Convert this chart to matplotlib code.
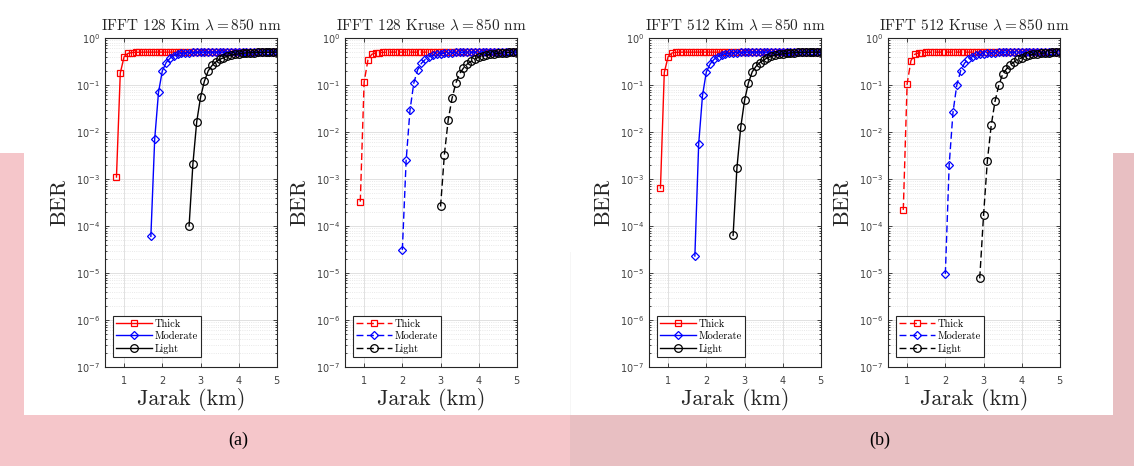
import numpy as np
import matplotlib
matplotlib.use("Agg")
import matplotlib.pyplot as plt
from matplotlib.patches import Rectangle
from matplotlib.ticker import LogLocator, NullFormatter, FixedLocator

plt.rcParams['mathtext.fontset'] = 'cm'
plt.rcParams['axes.formatter.use_mathtext'] = True

# jarak (km), grid sampel bersama
jarak = [0.5, 0.6, 0.7, 0.8, 0.9, 1.0, 1.1, 1.2, 1.3, 1.4,
         1.5, 1.6, 1.7, 1.8, 1.9, 2.0, 2.1, 2.2, 2.3, 2.4,
         2.5, 2.6, 2.7, 2.8, 2.9, 3.0, 3.1, 3.2, 3.3, 3.4,
         3.5, 3.6, 3.7, 3.8, 3.9, 4.0, 4.1, 4.2, 4.3, 4.4,
         4.5, 4.6, 4.7, 4.8, 4.9, 5.0]

# IFFT 128 Kim (mulai 0.8 / 1.7 / 2.7 km)
kim128_thick = [1.1e-3, 0.18, 0.40, 0.47, 0.49, 0.495, 0.498, 0.499, 0.5, 0.5,
                0.5, 0.5, 0.5, 0.5, 0.5, 0.5, 0.5, 0.5, 0.5, 0.5,
                0.5, 0.5, 0.5, 0.5, 0.5, 0.5, 0.5, 0.5, 0.5, 0.5,
                0.5, 0.5, 0.5, 0.5, 0.5, 0.5, 0.5, 0.5, 0.5, 0.5,
                0.5, 0.5, 0.5]
kim128_moderate = [6e-5, 7e-3, 0.07, 0.20, 0.30, 0.37, 0.42, 0.45, 0.47, 0.48,
                   0.488, 0.493, 0.496, 0.498, 0.499, 0.5, 0.5, 0.5, 0.5, 0.5,
                   0.5, 0.5, 0.5, 0.5, 0.5, 0.5, 0.5, 0.5, 0.5, 0.5,
                   0.5, 0.5, 0.5, 0.5]
kim128_light = [1.0e-4, 2.1e-3, 0.0166, 0.055, 0.12, 0.20, 0.26, 0.31, 0.35, 0.38,
                0.41, 0.43, 0.45, 0.46, 0.47, 0.48, 0.485, 0.49, 0.493, 0.495,
                0.497, 0.498, 0.499, 0.5]

# IFFT 128 Kruse (mulai 0.9 / 2.0 / 3.0 km)
kruse128_thick = [3.3e-4, 0.115, 0.34, 0.45, 0.48, 0.49, 0.495, 0.498, 0.5, 0.5,
                  0.5, 0.5, 0.5, 0.5, 0.5, 0.5, 0.5, 0.5, 0.5, 0.5,
                  0.5, 0.5, 0.5, 0.5, 0.5, 0.5, 0.5, 0.5, 0.5, 0.5,
                  0.5, 0.5, 0.5, 0.5, 0.5, 0.5, 0.5, 0.5, 0.5, 0.5,
                  0.5, 0.5]
kruse128_moderate = [3.1e-5, 2.5e-3, 0.029, 0.11, 0.21, 0.29, 0.35, 0.40, 0.43, 0.45,
                     0.465, 0.475, 0.483, 0.488, 0.492, 0.495, 0.497, 0.498, 0.499, 0.5,
                     0.5, 0.5, 0.5, 0.5, 0.5, 0.5, 0.5, 0.5, 0.5, 0.5,
                     0.5]
kruse128_light = [2.6e-4, 3.3e-3, 0.018, 0.052, 0.11, 0.175, 0.23, 0.28, 0.32, 0.36,
                  0.39, 0.41, 0.43, 0.45, 0.46, 0.47, 0.48, 0.487, 0.492, 0.496,
                  0.5]

# IFFT 512 Kim (mulai 0.8 / 1.7 / 2.7 km)
kim512_thick = [6.4e-4, 0.185, 0.40, 0.48, 0.495, 0.499, 0.5, 0.5, 0.5, 0.5,
                0.5, 0.5, 0.5, 0.5, 0.5, 0.5, 0.5, 0.5, 0.5, 0.5,
                0.5, 0.5, 0.5, 0.5, 0.5, 0.5, 0.5, 0.5, 0.5, 0.5,
                0.5, 0.5, 0.5, 0.5, 0.5, 0.5, 0.5, 0.5, 0.5, 0.5,
                0.5, 0.5, 0.5]
kim512_moderate = [2.3e-5, 5.6e-3, 0.06, 0.19, 0.28, 0.35, 0.40, 0.44, 0.46, 0.475,
                   0.485, 0.49, 0.495, 0.498, 0.5, 0.5, 0.5, 0.5, 0.5, 0.5,
                   0.5, 0.5, 0.5, 0.5, 0.5, 0.5, 0.5, 0.5, 0.5, 0.5,
                   0.5, 0.5, 0.5, 0.5]
kim512_light = [6.3e-5, 1.7e-3, 0.0126, 0.047, 0.11, 0.19, 0.25, 0.30, 0.34, 0.38,
                0.41, 0.43, 0.45, 0.46, 0.47, 0.48, 0.487, 0.492, 0.495, 0.497,
                0.498, 0.499, 0.5, 0.5]

# IFFT 512 Kruse (mulai 0.9 / 2.0 / 2.9 km)
kruse512_thick = [2.2e-4, 0.105, 0.33, 0.45, 0.48, 0.49, 0.495, 0.498, 0.5, 0.5,
                  0.5, 0.5, 0.5, 0.5, 0.5, 0.5, 0.5, 0.5, 0.5, 0.5,
                  0.5, 0.5, 0.5, 0.5, 0.5, 0.5, 0.5, 0.5, 0.5, 0.5,
                  0.5, 0.5, 0.5, 0.5, 0.5, 0.5, 0.5, 0.5, 0.5, 0.5,
                  0.5, 0.5]
kruse512_moderate = [9.5e-6, 1.95e-3, 0.026, 0.10, 0.20, 0.29, 0.35, 0.40, 0.43, 0.45,
                     0.465, 0.475, 0.483, 0.488, 0.492, 0.495, 0.497, 0.498, 0.499, 0.5,
                     0.5, 0.5, 0.5, 0.5, 0.5, 0.5, 0.5, 0.5, 0.5, 0.5,
                     0.5]
kruse512_light = [7.7e-6, 1.7e-4, 2.45e-3, 0.0138, 0.045, 0.10, 0.17, 0.22, 0.27, 0.31,
                  0.35, 0.38, 0.41, 0.43, 0.45, 0.46, 0.47, 0.48, 0.487, 0.492,
                  0.496, 0.5]

judul = ['IFFT 128 Kim $\\lambda = 850$ nm', 'IFFT 128 Kruse $\\lambda = 850$ nm',
         'IFFT 512 Kim $\\lambda = 850$ nm', 'IFFT 512 Kruse $\\lambda = 850$ nm']
label_cuaca = ['Thick', 'Moderate', 'Light']
data_panel = [
    [kim128_thick, kim128_moderate, kim128_light],
    [kruse128_thick, kruse128_moderate, kruse128_light],
    [kim512_thick, kim512_moderate, kim512_light],
    [kruse512_thick, kruse512_moderate, kruse512_light],
]
putus = [False, True, False, True]   # Kruse = garis putus-putus
warna = ['#ff0000', '#0000ff', '#000000']
penanda = ['s', 'D', 'o']
ukuran_penanda = [4.5, 4.2, 5.5]

W, H = 1134, 466
fig = plt.figure(figsize=(W / 100, H / 100), dpi=100)
fig.patch.set_facecolor('white')

# latar belakang merah muda (tangkapan layar dokumen)
pink_kiri = '#f5c6ca'
pink_kanan = '#e8bfc2'
for (x0, y0, w, h, c) in [(0, 0, 570, 51, pink_kiri), (570, 0, 564, 51, pink_kanan),
                          (0, 51, 24, 262, pink_kiri), (1113, 51, 21, 262, pink_kanan)]:
    fig.patches.append(Rectangle((x0 / W, y0 / H), w / W, h / H, transform=fig.transFigure,
                                 facecolor=c, edgecolor='none', zorder=0))
# garis samar pemisah dua gambar
fig.patches.append(Rectangle((570 / W, 51 / H), 1 / W, 163 / H, transform=fig.transFigure,
                             facecolor='#f6f6f6', edgecolor='none', zorder=0))

kiri_px = [105, 345, 649, 888]
lebar_px = 172
bawah_px = 367
tinggi_px = 329

for i in range(4):
    ax = fig.add_axes([kiri_px[i] / W, 1 - bawah_px / H, lebar_px / W, tinggi_px / H])
    for k in range(3):
        y = data_panel[i][k]
        x = jarak[len(jarak) - len(y):]
        garis, = ax.semilogy(x, y, linestyle='-', color=warna[k], marker=penanda[k],
                             markersize=ukuran_penanda[k], markerfacecolor='none',
                             markeredgewidth=0.9, linewidth=1.0, label=label_cuaca[k])
        if putus[i]:
            garis.set_dashes([5, 2.5])
    ax.set_xlim(0.5, 5)
    ax.set_ylim(1e-7, 1)
    ax.xaxis.set_major_locator(FixedLocator([1, 2, 3, 4, 5]))
    ax.yaxis.set_major_locator(LogLocator(base=10, numticks=20))
    ax.yaxis.set_minor_locator(LogLocator(base=10, subs=np.arange(2, 10), numticks=20))
    ax.yaxis.set_minor_formatter(NullFormatter())
    ax.grid(True, which='major', color='#dcdcdc', linewidth=0.6, linestyle='-')
    ax.grid(True, which='minor', axis='y', color='#e2e2e2', linewidth=0.6, linestyle=':')
    ax.set_axisbelow(True)
    ax.tick_params(which='both', direction='in', top=True, right=True,
                   labelsize=7, labelcolor='#404040', color='#262626', width=0.6)
    ax.tick_params(which='major', length=3)
    ax.tick_params(axis='x', pad=5)
    ax.tick_params(which='minor', length=1.5)
    for s in ax.spines.values():
        s.set_color('#262626')
        s.set_linewidth(0.8)

    ax.set_title(judul[i], fontsize=11, family='cmr10', pad=6, color='#262626')
    ax.set_xlabel('Jarak (km)', fontsize=16, family='cmr10', color='#262626')
    ax.set_ylabel('BER', fontsize=16, family='cmr10', color='#262626')
    ax.xaxis.set_label_coords(0.5, -0.065)
    ax.yaxis.set_label_coords(-0.205, 0.5)

    leg = ax.legend(loc='lower left', bbox_to_anchor=(0.045, 0.031), borderaxespad=0,
                    prop={'family': 'cmr10', 'size': 7.5}, handlelength=3.5,
                    handletextpad=0.2, labelspacing=0.25, borderpad=0.3,
                    fancybox=False, framealpha=1)
    leg.get_frame().set_edgecolor('#262626')
    leg.get_frame().set_linewidth(0.8)

fig.text(238 / W, 1 - 440 / H, '(a)', fontsize=13, family='Liberation Serif',
         ha='center', va='center')
fig.text(880 / W, 1 - 440 / H, '(b)', fontsize=13, family='Liberation Serif',
         ha='center', va='center')

plt.savefig('out.png', dpi=100)
plt.close(fig)
